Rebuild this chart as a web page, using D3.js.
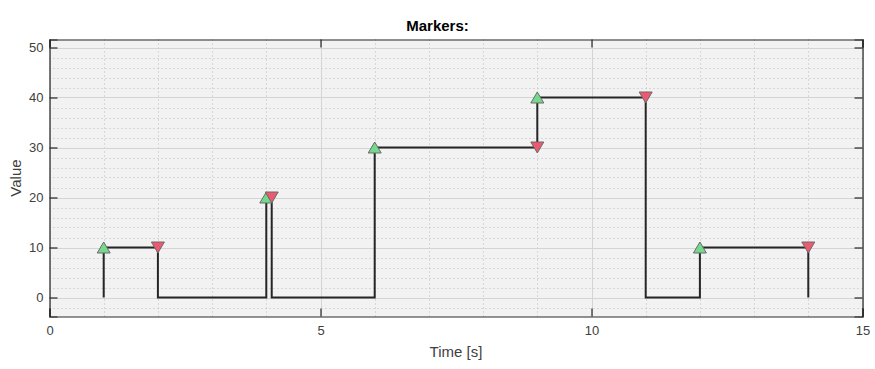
<!DOCTYPE html>
<html><head><meta charset="utf-8">
<script src="https://cdn.jsdelivr.net/npm/d3@7"></script>
<style>body{margin:0;background:#fff}svg{display:block}</style>
</head><body>
<script>
const stepTimes  = [1, 1, 2, 2, 4, 4, 4.1, 4.1, 6, 6, 9, 9, 11, 11, 12, 12, 14, 14];
const stepValues = [0, 10, 10, 0, 0, 20, 20, 0, 0, 30, 30, 40, 40, 0, 0, 10, 10, 0];
const riseTimes  = [1, 4, 6, 9, 12];
const riseValues = [10, 20, 30, 40, 10];
const fallTimes  = [2, 4.1, 9, 11, 14];
const fallValues = [10, 20, 30, 40, 10];
const xTicks = [0, 5, 10, 15];
const yTicks = [0, 10, 20, 30, 40, 50];
const xMinor = [1,2,3,4,6,7,8,9,11,12,13,14];
const yMinor = [-2,2,4,6,8,12,14,16,18,22,24,26,28,32,34,36,38,42,44,46,48];

const W = 875, H = 369;
const L = 49.5, R = 862.5, T = 39.5, B = 316.5;
const FONT = "'Liberation Sans', Arial, sans-serif";
const svg = d3.select("body").append("svg").attr("width", W).attr("height", H)
  .style("font-family", FONT);

const x = d3.scaleLinear().domain([0, 15]).range([L, R]);
const y = d3.scaleLinear().domain([-3.8, 51.6]).range([B, T]);

svg.append("rect").attr("x", L).attr("y", T).attr("width", R - L).attr("height", B - T).attr("fill", "#f2f2f2");

const g = svg.append("g");
// minor grid
g.selectAll(".xm").data(xMinor).join("line")
  .attr("x1", d => Math.round(x(d)) + 0.5).attr("x2", d => Math.round(x(d)) + 0.5)
  .attr("y1", T).attr("y2", B).attr("stroke", "#bdbdbd").attr("stroke-width", 1).attr("stroke-dasharray", "1,3");
g.selectAll(".ym").data(yMinor).join("line")
  .attr("y1", d => Math.round(y(d)) + 0.5).attr("y2", d => Math.round(y(d)) + 0.5)
  .attr("x1", L).attr("x2", R).attr("stroke", "#bdbdbd").attr("stroke-width", 1).attr("stroke-dasharray", "1,3");
// major grid
g.selectAll(".xg").data(xTicks).join("line")
  .attr("x1", d => Math.round(x(d)) + 0.5).attr("x2", d => Math.round(x(d)) + 0.5)
  .attr("y1", T).attr("y2", B).attr("stroke", "#d4d4d4").attr("stroke-width", 1);
g.selectAll(".yg").data(yTicks).join("line")
  .attr("y1", d => Math.round(y(d)) + 0.5).attr("y2", d => Math.round(y(d)) + 0.5)
  .attr("x1", L).attr("x2", R).attr("stroke", "#d4d4d4").attr("stroke-width", 1);

// step line
const pts = stepTimes.map((t, i) => [t, stepValues[i]]);
svg.append("path").datum(pts)
  .attr("d", d3.line().x(d => x(d[0])).y(d => y(d[1])))
  .attr("fill", "none").attr("stroke", "#262626").attr("stroke-width", 2);

// markers
const mw = 13, mh = 11;
const up = `M0,${-mh/2}L${mw/2},${mh/2}L${-mw/2},${mh/2}Z`;
const down = `M0,${mh/2}L${mw/2},${-mh/2}L${-mw/2},${-mh/2}Z`;
svg.selectAll(".rise").data(riseTimes).join("path")
  .attr("d", up).attr("transform", (d, i) => `translate(${x(d)},${y(riseValues[i])})`)
  .attr("fill", "#74d98c").attr("stroke", "#6a6a6a").attr("stroke-width", 1);
svg.selectAll(".fall").data(fallTimes).join("path")
  .attr("d", down).attr("transform", (d, i) => `translate(${x(d)},${y(fallValues[i])})`)
  .attr("fill", "#ec5a72").attr("stroke", "#6a6a6a").attr("stroke-width", 1);

// axes
const tickCol = "#262626", lblCol = "#404040";
const xAxB = d3.axisBottom(x).tickValues(xTicks).tickSize(-8).tickPadding(9).tickFormat(d3.format("d"));
const xAxT = d3.axisTop(x).tickValues(xTicks).tickSize(-8).tickFormat("");
const yAxL = d3.axisLeft(y).tickValues(yTicks).tickSize(-8).tickPadding(6).tickFormat(d3.format("d"));
const yAxR = d3.axisRight(y).tickValues(yTicks).tickSize(-8).tickFormat("");
function style(sel) {
  sel.attr("font-size", 13).attr("font-family", FONT);
  sel.select(".domain").attr("stroke", tickCol).attr("stroke-width", 1.2);
  sel.selectAll(".tick line").attr("stroke", tickCol).attr("stroke-width", 1.2);
  sel.selectAll(".tick text").attr("fill", lblCol).style("font-size", "13px").style("font-family", FONT);
}
svg.append("g").attr("transform", `translate(0,${B})`).call(xAxB).call(style);
svg.append("g").attr("transform", `translate(0,${T})`).call(xAxT).call(style);
svg.append("g").attr("transform", `translate(${L},0)`).call(yAxL).call(style);
svg.append("g").attr("transform", `translate(${R},0)`).call(yAxR).call(style);

svg.append("text").attr("x", 437.5).attr("y", 31).attr("text-anchor", "middle")
  .style("font-size", "15px").style("font-weight", "bold").attr("fill", "#000").text("Markers:");
svg.append("text").attr("x", (L + R) / 2).attr("y", 357).attr("text-anchor", "middle")
  .style("font-size", "15px").attr("fill", lblCol).text("Time [s]");
svg.append("text").attr("transform", `translate(21,${(T + B) / 2}) rotate(-90)`).attr("text-anchor", "middle")
  .style("font-size", "15px").attr("fill", lblCol).text("Value");
</script>
</body></html>
